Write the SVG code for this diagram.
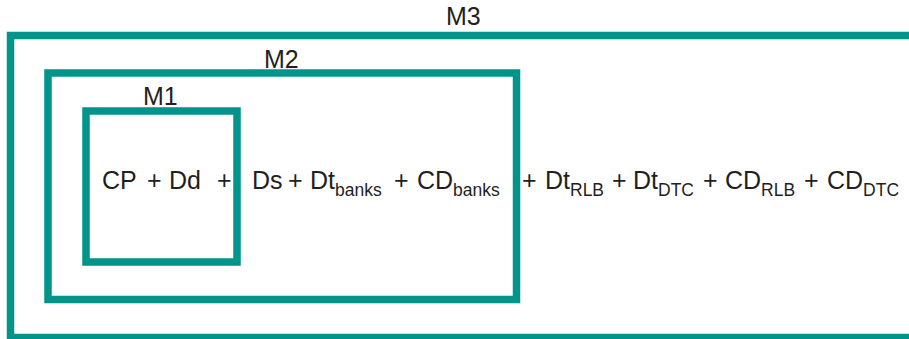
<svg xmlns="http://www.w3.org/2000/svg" width="909" height="339" viewBox="0 0 909 339">
  <style>
    .frame { fill: none; stroke: #00948a; stroke-width: 7.5; }
    .lbl { font-family: "Liberation Sans", Arial, sans-serif; font-size: 25px; fill: #231f20; }
    .eq { font-family: "Liberation Sans", Arial, sans-serif; font-size: 25px; fill: #231f20; }
    .sub { font-size: 17.5px; }
  </style>
  <rect width="909" height="339" fill="#ffffff"/>

  <!-- outermost aggregate -->
  <g id="m3">
    <rect class="frame" x="10.5" y="35.5" width="920" height="302"/>
    <text class="lbl" x="446" y="25">M3</text>
  </g>

  <!-- middle aggregate -->
  <g id="m2">
    <rect class="frame" x="48" y="73" width="468.5" height="226.5"/>
    <text class="lbl" x="264" y="68">M2</text>
  </g>

  <!-- narrow aggregate -->
  <g id="m1">
    <rect class="frame" x="86" y="111" width="151" height="151"/>
    <text class="lbl" x="143" y="105">M1</text>
  </g>

  <!-- components of the money supply -->
  <g id="formula" class="eq">
    <text x="102" y="189">CP</text>
    <text x="147" y="189">+</text>
    <text x="169" y="189">Dd</text>
    <text x="217" y="189">+</text>
    <text x="252" y="189">Ds</text>
    <text x="288" y="189">+</text>
    <text x="310" y="189">Dt<tspan class="sub" dy="7">banks</tspan></text>
    <text x="394" y="189">+</text>
    <text x="417" y="189">CD<tspan class="sub" dy="7">banks</tspan></text>
    <text x="522" y="189">+</text>
    <text x="545" y="189">Dt<tspan class="sub" dy="7">RLB</tspan></text>
    <text x="612" y="189">+</text>
    <text x="633" y="189">Dt<tspan class="sub" dy="7">DTC</tspan></text>
    <text x="703" y="189">+</text>
    <text x="725" y="189">CD<tspan class="sub" dy="7">RLB</tspan></text>
    <text x="804" y="189">+</text>
    <text x="827" y="189">CD<tspan class="sub" dy="7">DTC</tspan></text>
  </g>
</svg>
